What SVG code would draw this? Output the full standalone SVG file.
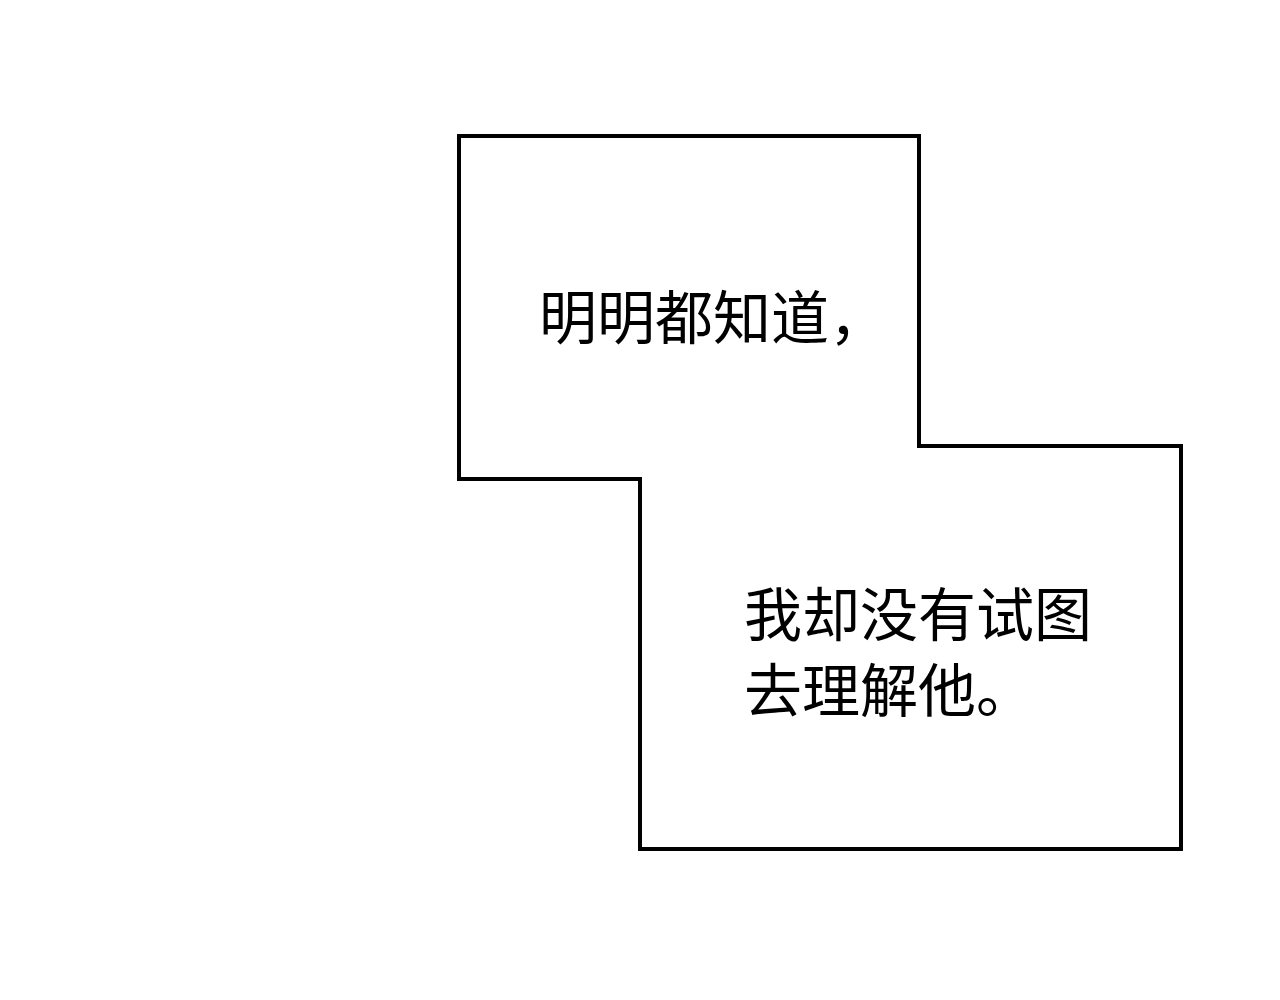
<svg xmlns="http://www.w3.org/2000/svg" width="1280" height="1000" viewBox="0 0 1280 1000">
<style>
.t{font-family:"Noto Sans CJK SC","Noto Sans CJK JP",sans-serif;font-size:58px;fill:#000}
</style>
<rect width="1280" height="1000" fill="#fff"/>
<g id="panel">
<polygon points="459,136 919,136 919,446 1181,446 1181,849 640,849 640,479 459,479" fill="#fff" stroke="#000" stroke-width="4"/>
</g>
<g id="text1"><text class="t" x="539" y="339">明明都知道，</text></g>
<g id="text2"><text class="t" x="744" y="636">我却没有试图</text><text class="t" x="744" y="712">去理解他。</text></g>
</svg>
